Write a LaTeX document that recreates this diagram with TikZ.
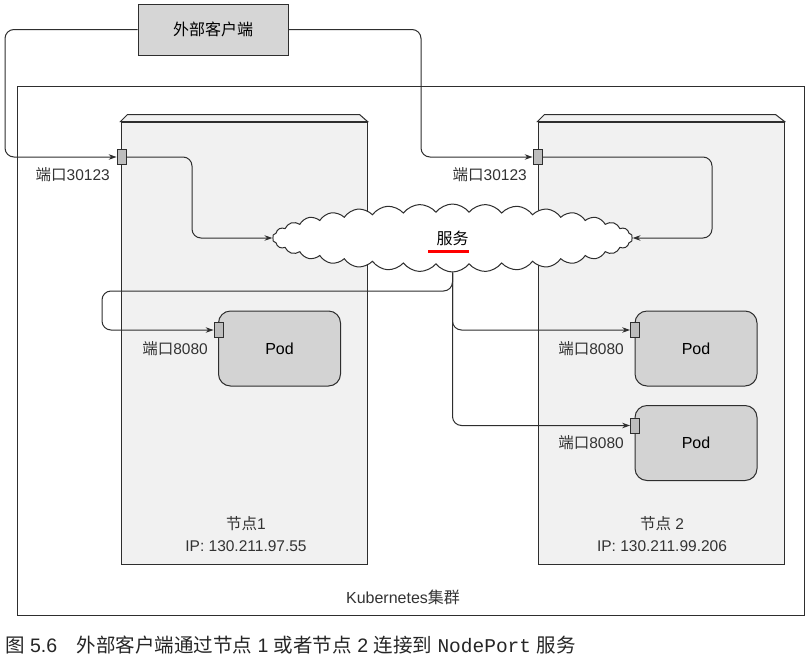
\documentclass[tikz,border=0pt]{standalone}
\usepackage{fontspec}
\setmainfont{Liberation Sans}
\setmonofont{Liberation Mono}
\newfontfamily\cjk{Noto Sans CJK SC}
\usetikzlibrary{shapes.symbols,arrows.meta}
\definecolor{linec}{HTML}{2E2E2E}
\definecolor{nodebg}{HTML}{F1F1F1}
\definecolor{podbg}{HTML}{D3D3D3}
\definecolor{clientbg}{HTML}{D6D6D6}
\definecolor{portbg}{HTML}{BDBDBD}
\tikzset{
  txt/.style={font=\fontsize{15.5}{22}\selectfont, text=black!80, inner sep=0pt},
  clientbox/.style={draw=linec, fill=clientbg, line width=1pt, minimum width=150pt, minimum height=51pt, inner sep=0pt},
  hostbox/.style={draw=linec, fill=nodebg, line width=1pt, minimum width=246pt, minimum height=442pt, inner sep=0pt},
  podbox/.style={draw=linec, fill=podbg, line width=1pt, rounded corners=12pt, minimum width=122pt, minimum height=75pt, inner sep=0pt, font=\fontsize{16}{18}\selectfont},
  portbox/.style={draw=linec, fill=portbg, line width=0.8pt, minimum width=9pt, minimum height=15pt, inner sep=0pt},
  conn/.style={draw=linec, line width=1pt, rounded corners=9pt},
  arr/.style={conn, -{Stealth[length=8pt,width=5.5pt]}},
}
\begin{document}
\begin{tikzpicture}[x=1pt,y=-1pt]
\useasboundingbox (0,0) rectangle (810,659);
\fill[white] (0,0) rectangle (810,659);

% cluster
\node[draw=linec, line width=1pt, minimum width=787pt, minimum height=529pt, inner sep=0pt] (cluster) at (410.5,350.5) {};

% hosts
\node[hostbox] (n1) at (244,343) {};
\node[hostbox] (n2) at (661,343) {};
\draw[draw=linec, fill=nodebg, line width=1pt] (n1.north west) -- ([xshift=7pt,yshift=7pt]n1.north west) -- ([xshift=-8pt,yshift=7pt]n1.north east) -- (n1.north east) -- cycle;
\draw[draw=linec, fill=nodebg, line width=1pt] (n2.north west) -- ([xshift=7pt,yshift=7pt]n2.north west) -- ([xshift=-9pt,yshift=7pt]n2.north east) -- (n2.north east) -- cycle;

% client
\node[clientbox, font=\fontsize{16}{18}\selectfont\cjk] (client) at (213,29.5) {外部客户端};

% pods
\node[podbox] (pod1) at (279.5,348.5) {Pod};
\node[podbox] (pod2) at (696,348.5) {Pod};
\node[podbox] (pod3) at (696,443) {Pod};

% ports
\node[portbox] (p1) at (121.5,157) {};
\node[portbox] (p2) at (537.5,157) {};
\node[portbox] (pp1) at (218.5,330) {};
\node[portbox] (pp2) at (635,330) {};
\node[portbox] (pp3) at (635,425.5) {};

% client to ports
\draw[arr] (client.west) -| (5,157) -- (p1.west);
\draw[arr] (client.east) -| (421,157) -- (p2.west);

% service cloud
\node[cloud, cloud puffs=34, cloud puff arc=105, aspect=5.8, draw=linec, line width=1pt, fill=white, minimum width=360pt, minimum height=68pt, inner sep=0pt, font=\fontsize{16}{18}\selectfont\cjk] (svc) at (452.5,238) {服务};
\draw[red, line width=2.2pt] (428,251.5) -- (469,251.5);

% ports to service
\draw[arr] (p1.east) -| (192,238) -- (svc.west);
\draw[arr] (p2.east) -| (712,238) -- (svc.east);

% service to pods
\draw[arr] (svc.south) |- (102,291) |- (pp1.west);
\draw[arr] (svc.south) |- (pp2.west);
\draw[arr] (svc.south) |- (pp3.west);

% labels
\node[txt, anchor=east] (lp1) at (110,175) {{\cjk 端口}30123};
\node[txt, anchor=east] (lp2) at (527,175) {{\cjk 端口}30123};
\node[txt, anchor=east] (lq1) at (208,349) {{\cjk 端口}8080};
\node[txt, anchor=east] (lq2) at (624,349) {{\cjk 端口}8080};
\node[txt, anchor=east] (lq3) at (624,443) {{\cjk 端口}8080};

\node[txt, align=center] (h1) at (246,534) {{\cjk 节点}1\\IP: 130.211.97.55};
\node[txt, align=center] (h2) at (662,534) {{\cjk 节点} 2\\IP: 130.211.99.206};
\node[txt, font=\fontsize{16}{22}\selectfont] (kc) at (403,597) {Kubernetes{\cjk 集群}};

% caption
\node[anchor=west, inner sep=0pt, text=black!85, font=\fontsize{19.5}{22}\selectfont] (cap) at (5,645) {{\cjk 图} 5.6\hspace{1em}{\cjk 外部客户端通过节点} 1 {\cjk 或者节点} 2 {\cjk 连接到} {\ttfamily NodePort} {\cjk 服务}};
\end{tikzpicture}
\end{document}
